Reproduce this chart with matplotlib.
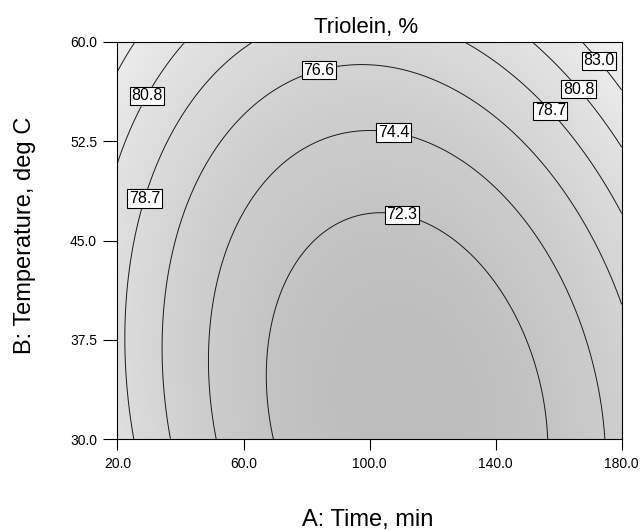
import numpy as np
import matplotlib
matplotlib.use("Agg")
import matplotlib.pyplot as plt
from matplotlib.colors import LinearSegmentedColormap

plt.rcParams['font.family'] = ['Liberation Sans', 'DejaVu Sans']

# axis ranges / ticks
time_range = [20.0, 180.0]
temp_range = [30.0, 60.0]
time_ticks = [20.0, 60.0, 100.0, 140.0, 180.0]
temp_ticks = [30.0, 37.5, 45.0, 52.5, 60.0]

# contour levels printed on the plot
levels = [72.3, 74.4, 76.6, 78.7, 80.8, 83.0]

# where the labels sit (time, temp)
label_pos = [(83.9, 57.8), (108.0, 53.7), (110.3, 47.0),
             (28.1, 56.1), (28.1, 48.2),
             (174.0, 58.8), (167.7, 56.7), (158.8, 55.1)]

# quadratic response surface, parameters estimated from the contour crossings
ridge_min = 70.18      # lowest triolein on the valley line
temp_at_min = 32.0     # temperature of the overall minimum
curv_temp = 0.0093     # curvature along temperature
curv_time = 0.0011     # curvature along time
time_center_30 = 113.0 # valley time at 30 deg C
time_center_slope = -0.55  # shift of valley time per deg C


def triolein(a, b):
    center = time_center_30 + time_center_slope * (b - 30.0)
    return ridge_min + curv_temp * (b - temp_at_min) ** 2 + curv_time * (a - center) ** 2


a = np.linspace(time_range[0], time_range[1], 300)
b = np.linspace(temp_range[0], temp_range[1], 300)
AA, BB = np.meshgrid(a, b)
Z = triolein(AA, BB)

fig = plt.figure(figsize=(6.41, 5.30), dpi=100)
ax = fig.add_axes([0.1833, 0.1711, 0.7866, 0.7502])

grays = LinearSegmentedColormap.from_list('g', ['#bdbdbd', '#f4f4f4'])
ax.imshow(Z, extent=[*time_range, *temp_range], origin='lower', aspect='auto',
          cmap=grays, vmin=70.2, vmax=85.5, interpolation='bilinear')

cs = ax.contour(AA, BB, Z, levels=levels, colors='#1a1a1a', linewidths=0.7)
ax.clabel(cs, levels=levels, manual=label_pos, inline=False,
          fmt='%.1f', fontsize=11.5)
for t in cs.labelTexts:
    t.set_rotation(0)
    t.set_color('black')
    t.set_bbox(dict(boxstyle='square,pad=0.1', fc='white', ec='black', lw=0.8))

ax.set_xlim(time_range)
ax.set_ylim(temp_range)
ax.set_xticks(time_ticks)
ax.set_yticks(temp_ticks)
ax.set_xticklabels([f'{v:.1f}' for v in time_ticks])
ax.set_yticklabels([f'{v:.1f}' for v in temp_ticks])
ax.tick_params(axis='both', direction='out', width=0.8, labelsize=10, colors='black')
ax.tick_params(axis='y', length=10.4, pad=4.3)
ax.tick_params(axis='x', length=7.9, pad=5)
for s in ax.spines.values():
    s.set_linewidth(0.8)

fig.text(0.571, 0.938, 'Triolein, %', ha='center', va='baseline', fontsize=16)
fig.text(0.574, 0.008, 'A: Time, min', ha='center', va='baseline', fontsize=17)
fig.text(0.039, 0.556, 'B: Temperature, deg C', ha='center', va='center',
         rotation=90, fontsize=17)

fig.savefig('out.png', dpi=100)
